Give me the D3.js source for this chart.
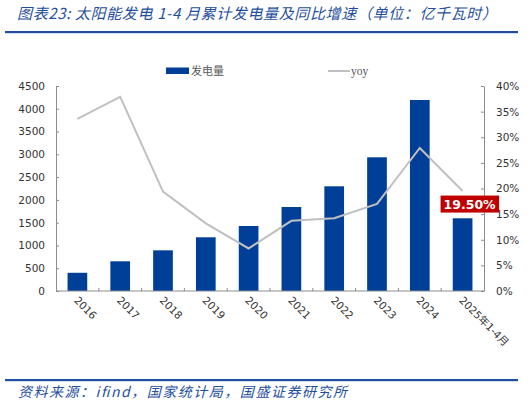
<!DOCTYPE html>
<html lang="zh">
<head>
<meta charset="utf-8">
<title>太阳能发电 1-4月累计发电量</title>
<script src="https://cdn.jsdelivr.net/npm/d3@7"></script>
<style>
  html, body { margin: 0; padding: 0; background: #fff; }
  svg { display: block; }
  .tick text { font-family: "DejaVu Sans", Verdana, sans-serif; font-size: 10.5px; fill: #333; }
</style>
</head>
<body>
<div id="chart"></div>
<script>
// values
const categories = ["2016", "2017", "2018", "2019", "2020", "2021", "2022", "2023", "2024", "2025年1-4月"];
const generation = [400, 652, 893, 1179, 1427, 1844, 2298, 2935, 4193, 1596];   // 亿千瓦时
const yoy = [33.6, 37.9, 19.4, 13.2, 8.3, 13.7, 14.2, 17.0, 27.9, 19.5];      // %
const leftTicks = [0, 500, 1000, 1500, 2000, 2500, 3000, 3500, 4000, 4500];
const rightTicks = [0, 5, 10, 15, 20, 25, 30, 35, 40];

const w = 531, h = 405;
const blue = "#003f98", lineBlue = "#1f4f9e", grey = "#c0c0c0", axisGrey = "#8c8c8c";
const plotL = 56, plotR = 484, plotT = 86, plotB = 291;

const svg = d3.select("#chart").append("svg")
  .attr("width", w)
  .attr("height", h);

// title + rule
svg.append("text")
  .attr("x", 17).attr("y", 19)
  .attr("font-family", "'Noto Sans CJK SC', sans-serif")
  .attr("font-style", "italic")
  .attr("font-size", 15)
  .attr("fill", lineBlue)
  .attr("textLength", 480)
  .attr("lengthAdjust", "spacing")
  .text("图表23:  太阳能发电 1-4 月累计发电量及同比增速（单位：亿千瓦时）");

svg.append("rect").attr("x", 5).attr("y", 31).attr("width", 513).attr("height", 2.2).attr("fill", lineBlue);

// footer
svg.append("rect").attr("x", 5).attr("y", 379).attr("width", 513).attr("height", 2.2).attr("fill", lineBlue);
svg.append("text")
  .attr("x", 18).attr("y", 397)
  .attr("font-family", "'Noto Sans CJK SC', sans-serif")
  .attr("font-style", "italic")
  .attr("font-size", 14)
  .attr("fill", lineBlue)
  .attr("textLength", 329)
  .attr("lengthAdjust", "spacing")
  .text("资料来源：ifind，国家统计局，国盛证券研究所");

// scales
let x = d3.scaleBand()
  .domain(categories)
  .range([plotL, plotR])
  .padding(0);

let yL = d3.scaleLinear().domain([0, 4500]).range([plotB, plotT]);
let yR = d3.scaleLinear().domain([0, 40]).range([plotB, plotT]);

let barW = x.bandwidth() * 0.46;

// bars
svg.append("g")
  .attr("class", "bars")
  .selectAll("rect")
  .data(generation)
  .enter()
  .append("rect")
  .attr("x", (d, i) => x(categories[i]) + (x.bandwidth() - barW) / 2)
  .attr("y", (d) => yL(d))
  .attr("width", barW)
  .attr("height", (d) => plotB - yL(d))
  .attr("fill", blue);

// yoy line
let line = d3.line()
  .x((d, i) => x(categories[i]) + x.bandwidth() / 2)
  .y((d) => yR(d));

svg.append("path")
  .datum(yoy)
  .attr("d", line)
  .attr("fill", "none")
  .attr("stroke", grey)
  .attr("stroke-width", 2);

// left axis
let leftAxis = svg.append("g")
  .attr("transform", "translate(" + plotL + ",0)")
  .call(d3.axisLeft(yL).tickValues(leftTicks).tickFormat(d3.format("d"))
    .tickSizeInner(-3).tickSizeOuter(0).tickPadding(11));

// right axis
let rightAxis = svg.append("g")
  .attr("transform", "translate(" + plotR + ",0)")
  .call(d3.axisRight(yR).tickValues(rightTicks).tickFormat((d) => d + "%")
    .tickSizeInner(-3).tickSizeOuter(0).tickPadding(12));

[leftAxis, rightAxis].forEach((g) => {
  g.select(".domain").attr("stroke", axisGrey);
  g.selectAll(".tick line").attr("stroke", axisGrey);
});

// x axis
let xAxis = svg.append("g").attr("class", "x axis");
xAxis.append("line")
  .attr("x1", plotL).attr("x2", plotR)
  .attr("y1", plotB).attr("y2", plotB)
  .attr("stroke", axisGrey);
xAxis.selectAll(".xt")
  .data(categories.slice(1))
  .enter()
  .append("line")
  .attr("x1", (d) => x(d)).attr("x2", (d) => x(d))
  .attr("y1", plotB).attr("y2", plotB - 3)
  .attr("stroke", axisGrey);
xAxis.selectAll("text")
  .data(categories)
  .enter()
  .append("text")
  .attr("transform", (d) => "translate(" + (x(d) + x.bandwidth() / 2 - 4) + "," + (plotB + 10) + ") rotate(45)")
  .attr("font-family", "'DejaVu Sans', 'Noto Sans CJK SC', sans-serif")
  .attr("font-size", 10.5)
  .attr("fill", "#333")
  .text((d) => d);

// last value label
let last = yoy.length - 1;
let lx = x(categories[last]) + x.bandwidth() / 2 + 7;
let ly = yR(yoy[last]) + 13;
let label = svg.append("g");
let lt = label.append("text")
  .attr("x", lx).attr("y", ly)
  .attr("text-anchor", "middle")
  .attr("dominant-baseline", "central")
  .attr("font-family", "'DejaVu Sans', sans-serif")
  .attr("font-weight", "bold")
  .attr("font-size", 12.5)
  .attr("fill", "#fff")
  .text(yoy[last].toFixed(2) + "%");
let bb = lt.node().getBBox();
label.insert("rect", "text")
  .attr("x", bb.x - 3).attr("y", ly - 8.5)
  .attr("width", bb.width + 6).attr("height", 17)
  .attr("fill", "#c00000");

// legend
svg.append("rect").attr("x", 166).attr("y", 67.5).attr("width", 23).attr("height", 6.5).attr("fill", blue);
svg.append("text")
  .attr("x", 191).attr("y", 75)
  .attr("font-family", "'Noto Sans CJK SC', serif")
  .attr("font-size", 11)
  .attr("fill", "#595959")
  .text("发电量");
svg.append("line").attr("x1", 328).attr("x2", 350).attr("y1", 71).attr("y2", 71)
  .attr("stroke", grey).attr("stroke-width", 2);
svg.append("text")
  .attr("x", 351).attr("y", 74.5)
  .attr("font-family", "'Liberation Serif', serif")
  .attr("font-size", 11.5)
  .attr("fill", "#595959")
  .text("yoy");
</script>
</body>
</html>
